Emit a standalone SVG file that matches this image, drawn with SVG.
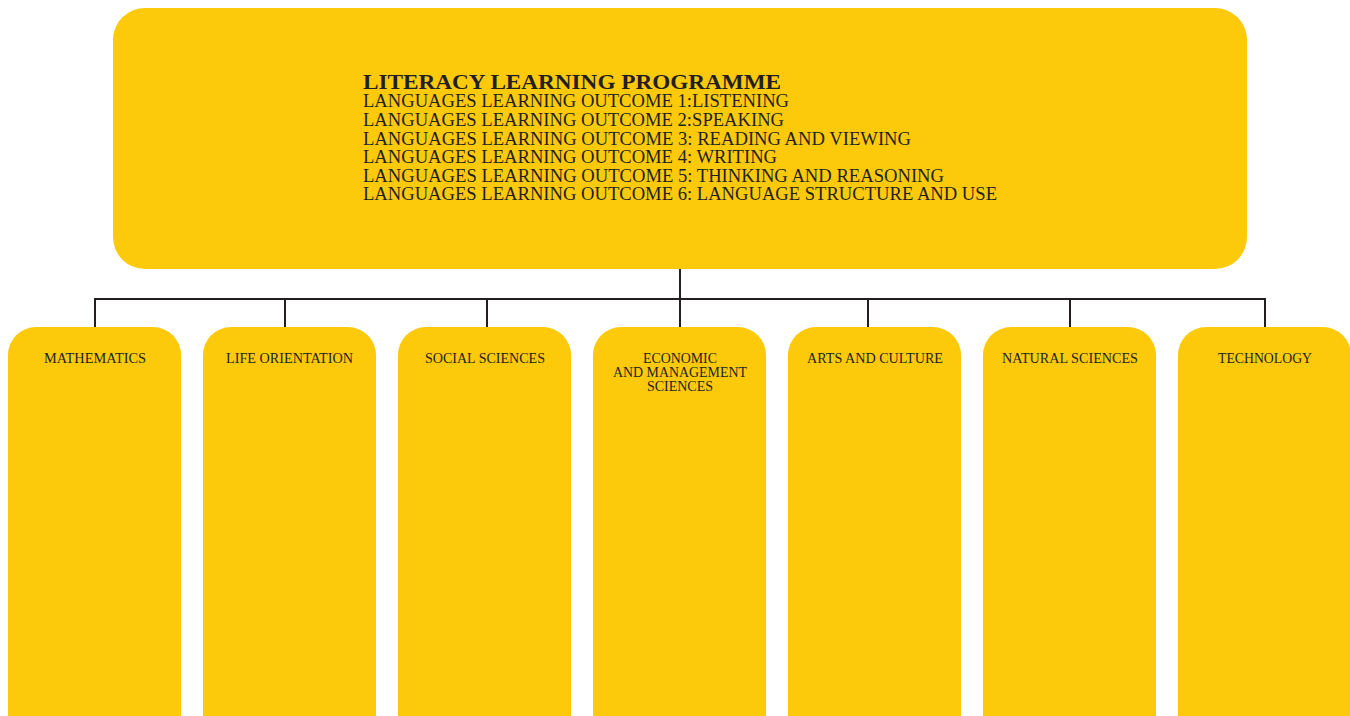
<svg xmlns="http://www.w3.org/2000/svg" width="1350" height="716" viewBox="0 0 1350 716">
<style>
.box{fill:#FDCA0B;}
.t{font-family:"Liberation Serif","Times New Roman",serif;fill:#231F20;}
.lbl{font-size:14px;text-anchor:middle;}
.ln{font-size:18.5px;}
.ttl{font-size:22px;font-weight:bold;}
.c{stroke:#231F20;stroke-width:2;fill:none;}
</style>
<rect width="1350" height="716" fill="#ffffff"/>
<g id="connectors">
<line class="c" x1="680" y1="269" x2="680" y2="299"/>
<polyline class="c" points="95,327 95,299 1265,299 1265,327"/>
<line class="c" x1="285" y1="299" x2="285" y2="327"/>
<line class="c" x1="487" y1="299" x2="487" y2="327"/>
<line class="c" x1="680" y1="299" x2="680" y2="327"/>
<line class="c" x1="868" y1="299" x2="868" y2="327"/>
<line class="c" x1="1070" y1="299" x2="1070" y2="327"/>
</g>
<g id="literacy">
<rect class="box" x="113" y="8" width="1134" height="261" rx="32"/>
<text class="t ttl" x="363" y="89" textLength="418" lengthAdjust="spacingAndGlyphs">LITERACY LEARNING PROGRAMME</text>
<text class="t ln" x="363" y="107" textLength="426" lengthAdjust="spacingAndGlyphs">LANGUAGES LEARNING OUTCOME 1:LISTENING</text>
<text class="t ln" x="363" y="126" textLength="421" lengthAdjust="spacingAndGlyphs">LANGUAGES LEARNING OUTCOME 2:SPEAKING</text>
<text class="t ln" x="363" y="145" textLength="548" lengthAdjust="spacingAndGlyphs">LANGUAGES LEARNING OUTCOME 3: READING AND VIEWING</text>
<text class="t ln" x="363" y="163" textLength="414" lengthAdjust="spacingAndGlyphs">LANGUAGES LEARNING OUTCOME 4: WRITING</text>
<text class="t ln" x="363" y="182" textLength="581" lengthAdjust="spacingAndGlyphs">LANGUAGES LEARNING OUTCOME 5: THINKING AND REASONING</text>
<text class="t ln" x="363" y="200" textLength="634" lengthAdjust="spacingAndGlyphs">LANGUAGES LEARNING OUTCOME 6: LANGUAGE STRUCTURE AND USE</text>
</g>
<g id="mathematics">
<rect class="box" x="8" y="327" width="173" height="420" rx="28"/>
<text class="t lbl" x="95" y="363" textLength="102" lengthAdjust="spacingAndGlyphs">MATHEMATICS</text>
</g>
<g id="life-orientation">
<rect class="box" x="203" y="327" width="173" height="420" rx="28"/>
<text class="t lbl" x="289.5" y="363" textLength="127" lengthAdjust="spacingAndGlyphs">LIFE ORIENTATION</text>
</g>
<g id="social-sciences">
<rect class="box" x="398" y="327" width="173" height="420" rx="28"/>
<text class="t lbl" x="485" y="363" textLength="120" lengthAdjust="spacingAndGlyphs">SOCIAL SCIENCES</text>
</g>
<g id="ems">
<rect class="box" x="593" y="327" width="173" height="420" rx="28"/>
<text class="t lbl" x="680" y="363" textLength="74" lengthAdjust="spacingAndGlyphs">ECONOMIC</text>
<text class="t lbl" x="680" y="377" textLength="134" lengthAdjust="spacingAndGlyphs">AND MANAGEMENT</text>
<text class="t lbl" x="680" y="391" textLength="66" lengthAdjust="spacingAndGlyphs">SCIENCES</text>
</g>
<g id="arts-culture">
<rect class="box" x="788" y="327" width="173" height="420" rx="28"/>
<text class="t lbl" x="875" y="363" textLength="136" lengthAdjust="spacingAndGlyphs">ARTS AND CULTURE</text>
</g>
<g id="natural-sciences">
<rect class="box" x="983" y="327" width="173" height="420" rx="28"/>
<text class="t lbl" x="1070" y="363" textLength="136" lengthAdjust="spacingAndGlyphs">NATURAL SCIENCES</text>
</g>
<g id="technology">
<rect class="box" x="1178" y="327" width="173" height="420" rx="28"/>
<text class="t lbl" x="1265" y="363" textLength="94" lengthAdjust="spacingAndGlyphs">TECHNOLOGY</text>
</g>
</svg>
